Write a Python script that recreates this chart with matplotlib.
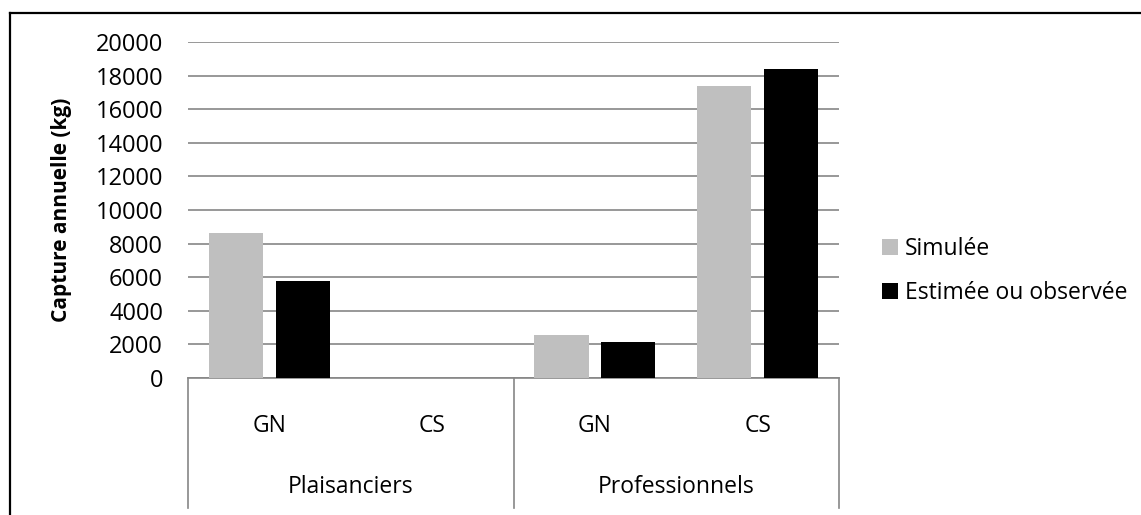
import matplotlib
matplotlib.use('Agg')
import matplotlib.pyplot as plt
from matplotlib.patches import Patch
from matplotlib.lines import Line2D
import numpy as np

# Données
sous_categories = ['GN', 'CS', 'GN', 'CS']
groupes = ['Plaisanciers', 'Professionnels']
simulee = [8630, 0, 2540, 17400]
estimee = [5770, 0, 2160, 18370]
series = ['Simulée', 'Estimée ou observée']
couleurs = ['#BFBFBF', '#000000']

plt.rcParams['font.family'] = ['Open Sans', 'DejaVu Sans']
W, H = 1141, 515
fig = plt.figure(figsize=(W / 100, H / 100), dpi=100)

# zone de tracé en pixels
x0, x1, y0, y1 = 188, 839, 42, 378
ax = fig.add_axes([x0 / W, (H - y1) / H, (x1 - x0) / W, (y1 - y0) / H])

pos = np.arange(len(sous_categories)) + 0.5
largeur = 0.332
ax.bar(pos - 0.205, simulee, largeur, color=couleurs[0], zorder=3)
ax.bar(pos + 0.205, estimee, largeur, color=couleurs[1], zorder=3)

ax.set_xlim(0, len(sous_categories))
ax.set_ylim(0, 20000)
ax.set_yticks(np.arange(0, 20001, 2000))
ax.yaxis.grid(True, color='#868686', linewidth=1.2)
ax.set_axisbelow(True)
for s in ['top', 'right', 'left']:
    ax.spines[s].set_visible(False)
ax.spines['bottom'].set_color('#868686')
ax.spines['bottom'].set_linewidth(1.2)
ax.tick_params(axis='y', length=0, pad=18, labelsize=17)
ax.set_xticks(pos)
ax.set_xticklabels(sous_categories, fontsize=16.5)
ax.tick_params(axis='x', length=0, pad=26)
ax.set_ylabel('Capture annuelle (kg)', fontsize=15, fontweight='bold', labelpad=17)

# séparateurs et libellés des groupes
trans = ax.get_xaxis_transform()
bas = -(508 - y1) / (y1 - y0)
for xs in [0, 2, 4]:
    ax.add_line(Line2D([xs, xs], [0, bas], transform=trans, color='#868686',
                       linewidth=1.2, clip_on=False))
for i, g in enumerate(groupes):
    ax.text(2 * i + 1, -(487 - y1) / (y1 - y0), g, transform=trans,
            ha='center', va='center', fontsize=16.5)

# légende
poignees = [Patch(facecolor=c, edgecolor='none') for c in couleurs]
fig.legend(poignees, series, loc='upper left', bbox_to_anchor=(861 / W, 1 - 216 / H),
           frameon=False, fontsize=16.5, handlelength=0.7, handleheight=0.7,
           handletextpad=0.3, labelspacing=0.9)

# cadre du graphique
fig.add_artist(Line2D([10 / W, 10 / W], [0, 1 - 13 / H], transform=fig.transFigure,
                      color='black', linewidth=1.6))
fig.add_artist(Line2D([10 / W, 1], [1 - 13 / H, 1 - 13 / H], transform=fig.transFigure,
                      color='black', linewidth=1.6))

fig.savefig('out.png', dpi=100)
